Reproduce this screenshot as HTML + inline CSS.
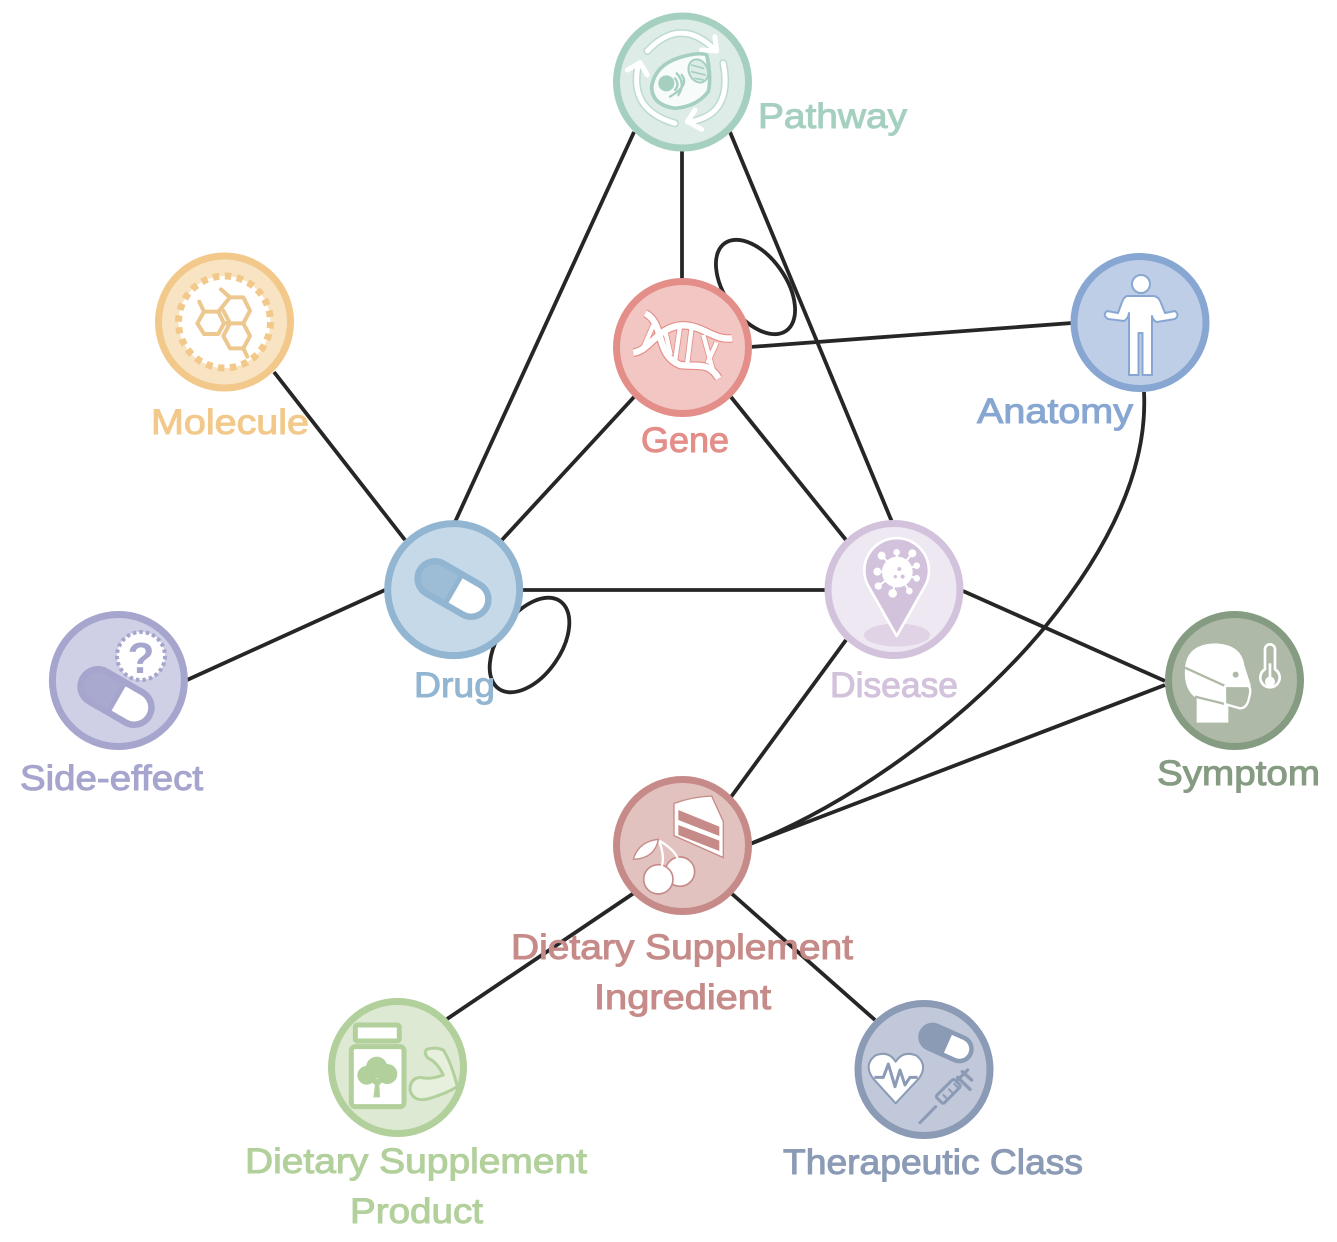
<!DOCTYPE html>
<html><head><meta charset="utf-8">
<style>
html,body{margin:0;padding:0;background:#fff}
svg{display:block}
text{font-family:"Liberation Sans",sans-serif;font-weight:normal;font-size:35px;stroke-width:1}
</style></head><body>
<svg width="1337" height="1242" viewBox="0 0 1337 1242" xmlns="http://www.w3.org/2000/svg">
<defs>
<g id="pill">
<line x1="-21" x2="21" stroke-width="41" stroke-linecap="round" stroke="currentColor"/>
<line x1="3" x2="21" stroke-width="28" stroke="#fff"/>
<circle cx="21" r="14" fill="#fff"/>
</g>
</defs>
<!-- edges -->
<g stroke="#262626" stroke-width="3.8" fill="none">
<path d="M634,132L455,522M682,150V280M730,132L892,522M750,347L1072,323M634,397L501,541M731,397L846,540M274,372L405,540M385,590L187,680M522,590H826M963,591L1165,681M846,640L731,797M1165,685L750,844M634,893L447,1019M731,893L875,1020"/>
<path d="M1144,392C1148,470 1108,550 1045,627C975,712 860,800 750,844"/>
<ellipse cx="755.500" cy="287" rx="53.500" ry="30.500" transform="rotate(55 755.500 287)"/>
<ellipse cx="529.500" cy="645" rx="53.500" ry="31" transform="rotate(-55 529.500 645)"/>
</g>
<!-- nodes -->
<g stroke-width="7">
<circle cx="682.500" cy="82" r="66" fill="#deece7" stroke="#a5d0c0"/>
<circle cx="224.500" cy="322" r="66" fill="#f8e4c3" stroke="#f2c98a"/>
<circle cx="682.500" cy="347.500" r="66" fill="#f2c6c2" stroke="#e48e89"/>
<circle cx="1140" cy="322.500" r="66" fill="#bfcee7" stroke="#87a7d2"/>
<circle cx="453.700" cy="589.600" r="66" fill="#c6d9e8" stroke="#92b6d2"/>
<circle cx="894" cy="589.500" r="66" fill="#eee8f2" stroke="#d3c2dc"/>
<circle cx="118.400" cy="680.500" r="66" fill="#cfcfe5" stroke="#a5a5cd"/>
<circle cx="1234.500" cy="680.500" r="66" fill="#aeb9a7" stroke="#859b82"/>
<circle cx="682.500" cy="845.500" r="66" fill="#e1c2bf" stroke="#c68b88"/>
<circle cx="397.500" cy="1067.500" r="66" fill="#dde9d2" stroke="#b2d09b"/>
<circle cx="924" cy="1069.500" r="66" fill="#c0c8d9" stroke="#8b9ab5"/>
</g>
<!-- Pathway icon -->
<g transform="translate(600,0) scale(.3333)" fill="none" stroke-linecap="round" stroke-linejoin="round">
<g stroke="#a5d0c0" stroke-width="24" opacity=".6">
<path d="M142,153Q240,50 340,145M370,190Q399,343 272,365M225,370Q85,330 115,195"/>
</g>
<g stroke="#fff" stroke-width="15">
<path d="M142,153Q240,50 340,145M345,110L350,153L305,150M370,190Q399,343 272,365M285,330L262,365L305,388M225,370Q85,330 115,195M82,210L120,188L142,225"/>
</g>
<path d="M155,260Q165,195 240,172Q300,155 320,165Q335,230 325,275Q290,320 225,325Q155,315 155,260Z" fill="#f7fbf9" stroke="#a5d0c0" stroke-width="11"/>
<circle cx="199" cy="250" r="24" fill="#a5d0c0"/>
<path d="M230,220Q258,250 235,285M245,225Q270,255 210,290M225,235Q240,255 225,270" stroke="#a5d0c0" stroke-width="7"/>
<ellipse cx="295" cy="213" rx="28" ry="36" transform="rotate(-25 295 213)" fill="#deece7" stroke="#a5d0c0" stroke-width="6"/>
<path d="M275,195L310,205M275,215L315,225M285,235L310,240" stroke="#a5d0c0" stroke-width="5"/>
</g>
<!-- Molecule icon -->
<circle cx="224.500" cy="322" r="46" fill="#fff" stroke="#f2c98a" stroke-width="7" stroke-dasharray="6.500 5.540"/>
<g transform="translate(140,240) scale(.3333)" fill="none" stroke="#ecc78e" stroke-width="12" stroke-linejoin="round" stroke-linecap="round">
<path d="M172,250L192,215H235L252,250L235,282H192Z"/>
<path d="M235,215L270,172H310L330,212L310,250H270L250,212"/>
<path d="M252,250L270,250M270,250L250,288L270,325H310L330,288L310,250"/>
<path d="M192,215L178,185M270,172L243,148M310,325L322,350"/>
</g>
<!-- Gene icon -->
<g transform="translate(600,230) scale(.3333)" fill="none" stroke-linecap="butt">
<g stroke="#e48e89" stroke-width="26">
<path d="M136,250C195,280 165,375 240,405C300,412 325,395 356,445"/>
<path d="M100,368C150,362 170,292 245,286C310,285 340,332 396,325"/>
</g>
<path d="M160,285L128,358M195,300L212,375M240,290L225,395M275,292L262,398M310,315L340,425M350,338L322,400" stroke="#e48e89" stroke-width="18"/>
<path d="M160,285L128,358M195,300L212,375M240,290L225,395M275,292L262,398M310,315L340,425M350,338L322,400" stroke="#fff" stroke-width="13"/>
<g stroke="#fff" stroke-width="19">
<path d="M136,250C195,280 165,375 240,405C300,412 325,395 356,445"/>
<path d="M100,368C150,362 170,292 245,286C310,285 340,332 396,325"/>
</g>
</g>
<!-- Anatomy icon -->
<circle cx="1141" cy="284" r="9" fill="#fff" stroke="#87a7d2" stroke-width="2"/>
<path d="M1127,296H1154Q1159,297 1161,303L1165,313L1175,311Q1180,315 1175,319L1157,322Q1153,321 1152,316V375H1142.500V333H1138.500V375H1129V313Q1128,319 1124,321L1108,319Q1102,315 1107,311L1118,313L1122,302Q1124,297 1127,296Z" fill="#fff" stroke="#87a7d2" stroke-width="2" stroke-linejoin="round"/>
<!-- Drug icon -->
<use href="#pill" transform="translate(453,589) rotate(30)" color="#92b6d2"/>
<path d="M-2,-14H-21A14,14 0 0 0 -21,14H-2Z" fill="#9dbcd6" transform="translate(453,589) rotate(30)"/>
<!-- Disease icon -->
<ellipse cx="897" cy="635" rx="33" ry="11.500" fill="#e0d3e6"/>
<g transform="translate(815,510) scale(.3333)">
<path d="M245,378L160,228A97,97 0 1 1 330,228Z" fill="#d3c2dc" stroke="#fff" stroke-width="8" stroke-linejoin="round"/>
<g stroke="#fff" stroke-width="6" fill="#fff">
<path d="M247,186L200,137M247,186L245,127M247,186L292,130M247,186L305,167M247,186L305,205M247,186L283,243M247,186L233,250M247,186L190,228M247,186L187,185"/>
<circle cx="247" cy="186" r="43"/>
<circle cx="200" cy="137" r="9"/><circle cx="245" cy="127" r="7"/><circle cx="292" cy="130" r="9"/><circle cx="305" cy="167" r="7"/><circle cx="305" cy="205" r="7"/><circle cx="283" cy="243" r="7"/><circle cx="233" cy="250" r="10"/><circle cx="190" cy="228" r="8"/><circle cx="187" cy="185" r="9"/>
</g>
<circle cx="253" cy="177" r="6" fill="#d3c2dc"/><circle cx="241" cy="200" r="5" fill="#d3c2dc"/><circle cx="263" cy="200" r="6" fill="#d3c2dc"/>
</g>
<!-- Side-effect icon -->
<use href="#pill" transform="translate(116,697) rotate(30)" color="#a5a5cd"/>
<path d="M-2,-14H-21A14,14 0 0 0 -21,14H-2Z" fill="#a9a9cf" transform="translate(116,697) rotate(30)"/>
<circle cx="141" cy="656" r="24" fill="#fff" stroke="#a5a5cd" stroke-width="4" stroke-dasharray="3.500 3.040"/>
<text x="141" y="673" text-anchor="middle" fill="#a5a5cd" style="font-size:44px;font-weight:bold">?</text>
<!-- Symptom icon -->
<g transform="translate(1150,600) scale(.3333)" stroke-linejoin="round">
<path d="M105,205Q110,130 200,130Q275,135 283,195L303,258L235,320V368H140V295Q100,270 105,205Z" fill="#fff"/>
<path d="M105,203L225,258M135,290L225,312" stroke="#aeb9a7" stroke-width="7" fill="none"/>
<path d="M225,258H295Q305,265 298,290Q292,325 270,325L225,312Z" fill="#aeb9a7" stroke="#fff" stroke-width="7"/>
<circle cx="257" cy="224" r="9" fill="#aeb9a7"/>
<path d="M345,208V148A15,15 0 0 1 375,148V208A29,29 0 1 1 345,208Z" fill="none" stroke="#fff" stroke-width="8"/>
<line x1="360" y1="190" x2="360" y2="245" stroke="#fff" stroke-width="8"/>
<circle cx="360" cy="245" r="15" fill="#fff"/>
</g>
<!-- DSI icon -->
<g transform="translate(600,770) scale(.3333)" stroke="#c68b88" stroke-linejoin="round">
<path d="M222,100Q280,80 335,78L370,155V263L222,197Z" fill="#fff" stroke-width="4"/>
<path d="M235,120L358,170V198L235,150ZM235,165L358,212V243L235,195Z" fill="#c68b88" stroke="none"/>
<path d="M100,268Q115,215 175,208Q165,265 100,268Z" fill="#fff" stroke-width="4"/>
<circle cx="240" cy="305" r="44" fill="#fff" stroke-width="5"/>
<circle cx="175" cy="328" r="44" fill="#fff" stroke-width="5"/>
<path d="M178,215Q195,260 185,290M178,212Q225,240 235,270" fill="none" stroke="#fff" stroke-width="7"/>
</g>
<!-- DSP icon -->
<g transform="translate(320,990) scale(.3333)" stroke="#b2d09b" stroke-linejoin="round">
<rect x="106" y="105" width="132" height="48" rx="6" fill="#fff" stroke-width="15"/>
<rect x="94" y="170" width="158" height="180" rx="12" fill="#fff" stroke-width="15"/>
<g fill="#b2d09b" stroke="none">
<circle cx="170" cy="232" r="32"/><circle cx="140" cy="256" r="28"/><circle cx="202" cy="252" r="30"/>
<path d="M160,322L165,285L140,265H200L178,285L180,322Z"/>
</g>
<path d="M270,300Q270,265 300,262Q330,270 370,255Q350,215 325,205Q310,190 320,178Q345,170 370,180Q395,220 412,290Q380,310 330,325Q280,340 270,300Z" fill="#e6f0dd" stroke-width="9"/>
</g>
<!-- TC icon -->
<g transform="translate(845,990) scale(.3333)">
<path d="M152,340L84,265Q55,225 90,197Q130,180 152,215Q175,180 215,197Q250,225 222,265Z" fill="#fff" stroke="#8b9ab5" stroke-width="6" stroke-linejoin="round"/>
<polyline points="88,262 115,262 130,222 150,290 165,240 180,285 195,262 218,262" fill="none" stroke="#8b9ab5" stroke-width="9" stroke-linejoin="round"/>
<g stroke="#8b9ab5" fill="none" stroke-linecap="round">
<path d="M225,398L272,350" stroke-width="9"/>
<rect x="272" y="288" width="76" height="32" rx="6" transform="rotate(-45 310 304)" fill="#c0c8d9" stroke-width="9"/>
<path d="M295,315L305,325M312,298L322,308M328,282L338,292" stroke-width="6"/>
<path d="M338,270L368,240" stroke-width="10"/>
<path d="M338,262L375,298M352,245L380,270" stroke-width="10"/>
</g>
</g>
<g transform="translate(946,1043) rotate(24) scale(.7)" color="#8b9ab5"><use href="#pill"/></g>
<!-- labels -->
<text x="758" y="128" fill="#a5d0c0" stroke="#a5d0c0" textLength="149" lengthAdjust="spacingAndGlyphs">Pathway</text>
<text x="151" y="434" fill="#f2c98a" stroke="#f2c98a" textLength="158" lengthAdjust="spacingAndGlyphs">Molecule</text>
<text x="641" y="452" fill="#e48e89" stroke="#e48e89" textLength="88" lengthAdjust="spacingAndGlyphs">Gene</text>
<text x="977" y="423" fill="#87a7d2" stroke="#87a7d2" textLength="156" lengthAdjust="spacingAndGlyphs">Anatomy</text>
<text x="414" y="697" fill="#92b6d2" stroke="#92b6d2" textLength="81" lengthAdjust="spacingAndGlyphs">Drug</text>
<text x="830" y="697" fill="#d3c2dc" stroke="#d3c2dc" textLength="128" lengthAdjust="spacingAndGlyphs">Disease</text>
<text x="20" y="790" fill="#a5a5cd" stroke="#a5a5cd" textLength="183" lengthAdjust="spacingAndGlyphs">Side-effect</text>
<text x="1157" y="785" fill="#859b82" stroke="#859b82" textLength="163" lengthAdjust="spacingAndGlyphs">Symptom</text>
<text x="511" y="959" fill="#c68b88" stroke="#c68b88" textLength="342" lengthAdjust="spacingAndGlyphs">Dietary Supplement</text>
<text x="594" y="1009" fill="#c68b88" stroke="#c68b88" textLength="177" lengthAdjust="spacingAndGlyphs">Ingredient</text>
<text x="245" y="1173" fill="#b2d09b" stroke="#b2d09b" textLength="342" lengthAdjust="spacingAndGlyphs">Dietary Supplement</text>
<text x="350" y="1223" fill="#b2d09b" stroke="#b2d09b" textLength="133" lengthAdjust="spacingAndGlyphs">Product</text>
<text x="783" y="1174" fill="#8b9ab5" stroke="#8b9ab5" textLength="300" lengthAdjust="spacingAndGlyphs">Therapeutic Class</text>
</svg>
</body></html>
